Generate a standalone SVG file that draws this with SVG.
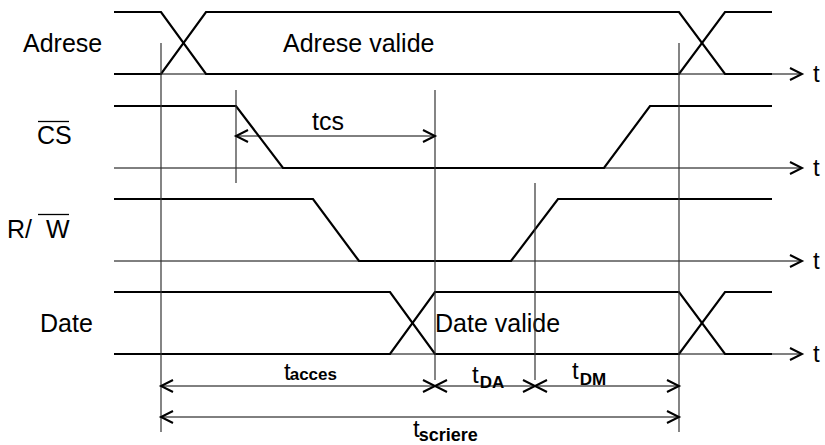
<svg xmlns="http://www.w3.org/2000/svg" width="825" height="445" viewBox="0 0 825 445">
<defs>
<marker id="arr" markerUnits="userSpaceOnUse" markerWidth="16" markerHeight="16" refX="13" refY="7" orient="auto-start-reverse">
<path d="M1,1 L13,7 L1,13" fill="none" stroke="#000" stroke-width="2"/>
</marker>
<style>
.sig{fill:none;stroke:#000;stroke-width:2.2;stroke-linejoin:miter}
.axis{fill:none;stroke:#000;stroke-width:1;marker-end:url(#arr)}
.guide{fill:none;stroke:#333;stroke-width:1.2}
.dim{fill:none;stroke:#000;stroke-width:1;marker-start:url(#arr);marker-end:url(#arr)}
text{font-family:"Liberation Sans",Arial,sans-serif;fill:#000}
.lbl{font-size:25px}
.t{font-size:24px}
.sub{font-size:17px;font-weight:bold}
.ol{stroke:#000;stroke-width:1.3}
</style>
</defs>
<g id="adrese">
<line class="axis" x1="114" y1="74" x2="802" y2="74"/>
<polyline class="sig" points="114,12 161,12 206,74 679,74 725,12 772,12"/>
<polyline class="sig" points="114,74 161,74 206,12 679,12 725,74 772,74"/>
<text class="lbl" x="23" y="52">Adrese</text>
<text class="lbl" x="283" y="52">Adrese valide</text>
<text class="t" x="813" y="82">t</text>
</g>
<g id="cs">
<line class="axis" x1="114" y1="168" x2="802" y2="168"/>
<polyline class="sig" points="114,106 236,106 283,168 604,168 650,106 772,106"/>
<text class="lbl" x="37" y="144">CS</text>
<line class="ol" x1="38" y1="121.5" x2="69" y2="121.5"/>
<text class="t" x="813" y="176">t</text>
</g>
<g id="rw">
<line class="axis" x1="114" y1="261" x2="802" y2="261"/>
<polyline class="sig" points="114,199 313,199 359,261 511,261 558,199 772,199"/>
<text class="lbl" x="7" y="238">R/</text>
<text class="lbl" x="46" y="238">W</text>
<line class="ol" x1="38" y1="214.5" x2="69" y2="214.5"/>
<text class="t" x="813" y="269">t</text>
</g>
<g id="date">
<line class="axis" x1="114" y1="354" x2="802" y2="354"/>
<polyline class="sig" points="114,292 390,292 435,354 679,354 725,292 772,292"/>
<polyline class="sig" points="114,354 390,354 435,292 679,292 725,354 772,354"/>
<text class="lbl" x="40" y="332">Date</text>
<text class="lbl" x="435" y="332">Date valide</text>
<text class="t" x="813" y="362">t</text>
</g>
<g id="connectors">
<line class="guide" x1="161" y1="43" x2="161" y2="432"/>
<line class="guide" x1="236" y1="90" x2="236" y2="183"/>
<line class="guide" x1="435" y1="90" x2="435" y2="380"/>
<line class="guide" x1="535" y1="183" x2="535" y2="380"/>
<line class="guide" x1="679" y1="43" x2="679" y2="432"/>
<line class="dim" x1="236" y1="136" x2="435" y2="136"/>
<line class="dim" x1="161" y1="386" x2="435" y2="386"/>
<line class="dim" x1="435" y1="386" x2="535" y2="386"/>
<line class="dim" x1="535" y1="386" x2="679" y2="386"/>
<line class="dim" x1="161" y1="417" x2="679" y2="417"/>
</g>
<g id="labels">
<text class="lbl" x="312" y="130">tcs</text>
<text x="284" y="380"><tspan class="t">t</tspan><tspan class="sub" dx="-1">acces</tspan></text>
<text x="472" y="383"><tspan class="t">t</tspan><tspan class="sub" dx="1" dy="5">DA</tspan></text>
<text x="572" y="379"><tspan class="t">t</tspan><tspan class="sub" dx="1" dy="6">DM</tspan></text>
<text x="413" y="437"><tspan class="t">t</tspan><tspan class="sub" dx="-1" dy="4" style="font-size:18px">scriere</tspan></text>
</g>
</svg>
